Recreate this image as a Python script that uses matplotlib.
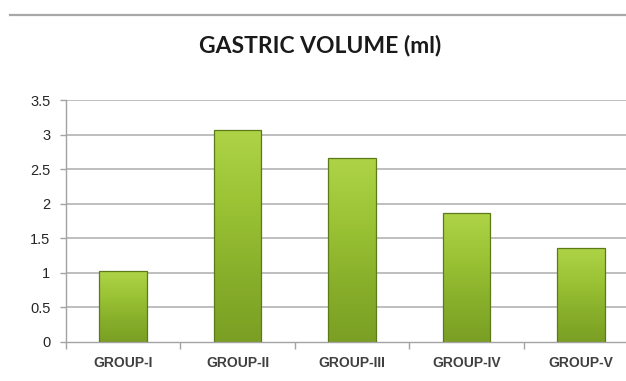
import numpy as np
import matplotlib
matplotlib.use("Agg")
import matplotlib.pyplot as plt
from matplotlib.colors import LinearSegmentedColormap
from matplotlib.lines import Line2D

groups = ["GROUP-I", "GROUP-II", "GROUP-III", "GROUP-IV", "GROUP-V"]
volume_ml = [1.02, 3.07, 2.66, 1.86, 1.35]
y_ticks = [0, 0.5, 1, 1.5, 2, 2.5, 3, 3.5]
y_tick_labels = ["0", "0.5", "1", "1.5", "2", "2.5", "3", "3.5"]
title = "GASTRIC VOLUME (ml)"

fig = plt.figure(figsize=(6.26, 3.81), dpi=100)
fig.patch.set_facecolor("white")

# thin rule across the top of the frame
fig.add_artist(Line2D([10 / 626, 1.0], [1 - 15 / 381, 1 - 15 / 381],
                      color="#a8a8a8", lw=1.6, transform=fig.transFigure))

ax = fig.add_axes([65.7 / 626, 39.3 / 381, 572.5 / 626, 241.7 / 381])

# horizontal gridlines
for t in y_ticks[1:]:
    ax.axhline(t, color="#b9b9b9", lw=1.3, zorder=1)

x = np.arange(len(groups))
bars = ax.bar(x, volume_ml, width=0.415, color="none",
              edgecolor="#5d7a18", linewidth=0.9, zorder=3)

# vertical green gradient inside each bar
cmap = LinearSegmentedColormap.from_list(
    "leaf", ["#7a9f24", "#89b02b", "#9cc435", "#aed347"])
grad = np.linspace(0, 1, 256).reshape(-1, 1)
for b in bars:
    x0, y0 = b.get_x(), b.get_y()
    w, h = b.get_width(), b.get_height()
    im = ax.imshow(grad, extent=[x0, x0 + w, y0, y0 + h], origin="lower",
                   aspect="auto", cmap=cmap, zorder=2)
    im.set_clip_path(b)
ax.set_xlim(-0.5, len(groups) - 0.5)
ax.set_ylim(0, 3.5)

for side in ["top", "right"]:
    ax.spines[side].set_visible(False)
for side in ["left", "bottom"]:
    ax.spines[side].set_color("#a3a3a3")
    ax.spines[side].set_linewidth(1.0)

ax.set_yticks(y_ticks)
ax.set_yticklabels(y_tick_labels)
ax.tick_params(axis="y", length=4, width=1.0, color="#a3a3a3", pad=7,
               labelsize=10.5, labelcolor="#262626")
for lab in ax.get_yticklabels():
    lab.set_fontfamily("Liberation Sans")

ax.set_xticks(x)
ax.set_xticklabels(groups)
ax.set_xticks(np.arange(-0.5, len(groups), 1.0), minor=True)
ax.tick_params(axis="x", which="major", length=0, pad=10,
               labelsize=10, labelcolor="#404040")
ax.tick_params(axis="x", which="minor", length=5, width=1.0, color="#a3a3a3")
for lab in ax.get_xticklabels():
    lab.set_fontfamily("Liberation Sans")
    lab.set_fontweight("bold")

fig.text(0.512, 1 - 46 / 381, title, ha="center", va="center",
         fontsize=16.5, fontweight="bold", family="Lato", color="#1a1a1a")

fig.savefig("out.png", dpi=100, facecolor="white")
